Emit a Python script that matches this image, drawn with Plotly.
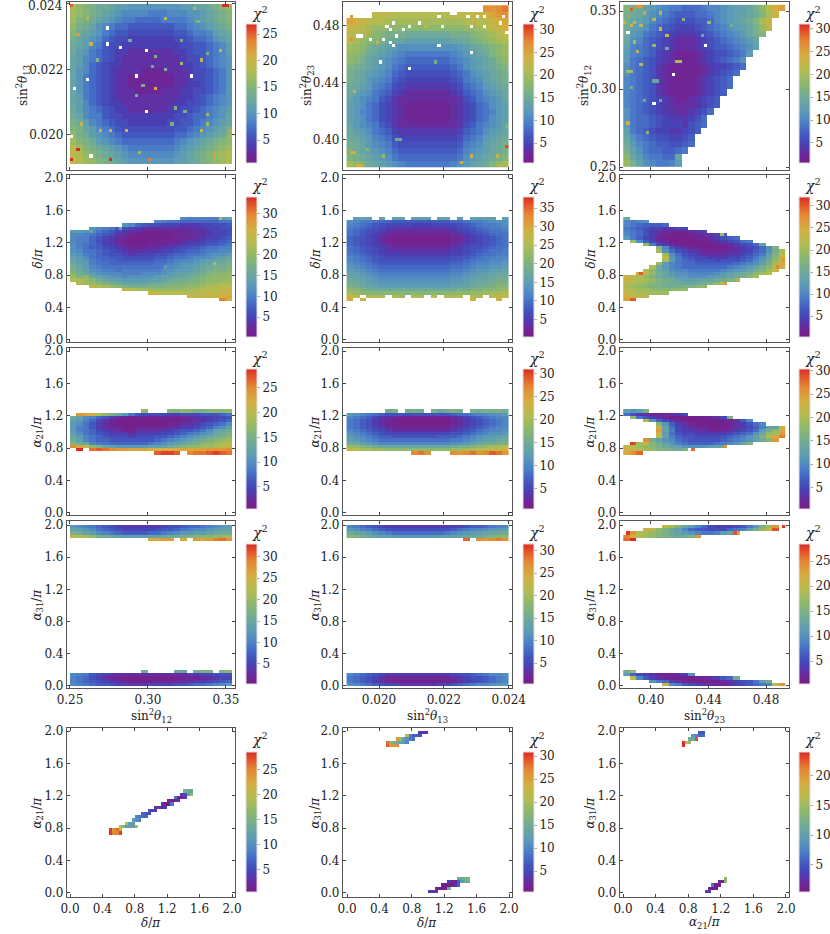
import numpy as np
import plotly.graph_objects as go

# chi^2 cells are written as one base-36 character each ('.' = no point), spaces only group columns
TH12_EDGES = (0.25, 0.354)
TH13_EDGES = (0.0190, 0.0240)
TH13_Y_EDGES = (0.0191, 0.0240)
TH23_EDGES = (0.3807, 0.4937)
TH23_Y_EDGES = (0.381, 0.4945)
ANGLE_EDGES = (0.0, 2.0)

p11_rows = [
"igfed dcbba aaaaa aabbc cdefg","hgfed cba99 99888 999aa bcdef","hfedc ba988 77778 8889a bcdef",
"gedca 98776 66666 67789 abcde","fdcba 87665 55555 56678 89bcd","ecba9 76554 44444 45567 78abc",
"dcb98 65544 44444 44556 6789b","dba87 65443 33333 34456 6789b","cb987 65433 33333 33455 6789a",
"cb976 54433 33333 33445 6789a","ca976 54333 32222 33345 5678a","ca876 54332 22222 23345 5678a",
"ca876 54332 22222 23344 5678a","ca876 54333 22223 33445 5678a","cb876 54333 33333 33445 6789a",
"cb976 54433 33333 34455 6789a","db987 65443 33333 44556 789ab","dc988 65544 44444 45567 789ac",
"edb98 76554 44444 55667 89abc","fecb9 87655 55555 56678 9abce","gedba 98766 66666 67789 abcdf",
"hfedb a9877 77777 789ab cdefg","ihfed cba98 88888 89abc defgh","jigfe dcba9 99999 9abcd efghi",
"kihgf edcba aaaaa abbcd efghi"]
p11_holes = [(11,42),(11,37),(15,36),(23,35),(5,26),(1,23),(20,27),(37,27),(23,16),(0,8),(6,2)]
p11_spots = [(2,40,22),(6,37,20),(26,33,15),(29,29,14),(26,23,21),(9,10,21),(12,10,20),(49,10,22),(2,4,27),(0,1,27),
(12,1,27),(24,1,24),(44,3,22),(44,2,22),(48,49,27),(47,49,27),(0,49,25),(38,48,18),(29,45,18),(5,45,19),(39,44,15),
(34,38,14),(18,38,13),(42,34,14),(46,35,18),(8,32,15),(40,32,19),(34,31,17),(25,30,13),(22,24,14),(20,21,14),(32,17,14),
(35,16,14),(42,15,17),(42,12,17),(31,12,14),(17,10,20),(3,12,19),(40,10,20),(21,3,17),(49,8,21)]

p12_rows = [
"..... ..... ..... ..... .rqrs","....m mmlll lllll lmmmn nopqr","ponml lkkkk kkkkk kkkll lmnop",
"nmlkj jiiii iiiii iiijj klmno","mlkji hgggf fffff fgggh ijklm","lkjih gfeed ddddd deefg hijkl",
"kjigf edcbb bbbbb bbcde fghij","jihfe dcba9 99999 9abcd efhij","ihged cba98 88888 89abc defhi",
"hgfed cb987 77777 789bc defgh","gfedc ba876 66666 6789b cdefg","gfecb a9765 55555 5679a bdefg",
"fedca 98654 44444 45689 acdef","edcb9 87543 33333 34578 9bcde","ecba9 76433 33333 33467 9abce",
"dcb98 65432 22222 23456 89bcd","dca98 65432 22222 23456 89acd","dcb98 65432 22222 23456 89bcd",
"ecba9 76433 33333 33467 9abce","edcb9 87544 44444 44578 9bcde","fedca 98655 55555 55689 acdef",
"gfecb a9766 66666 6679a bdefg","gfedc ba877 77777 778ab cdefg","hgfed cb988 88888 889bc defgh",
"kihfe dcba9 99999 9abcd efhjk"]
p12_holes = [(10,32),(19,30),(38,35),(28,37),(14,37),(13,38),(11,39),(7,39),(15,40),(3,40),(4,40),(17,42),(13,42),(12,43),
(14,44),(19,43),(22,44),(29,43),(38,43),(42,43),(47,44),(49,41),(28,46),(32,47),(33,47),(37,46),(40,46),(42,46),(48,46)]
p12_spots = [(1,39,27),(2,23,24),(49,6,30),(1,4,24),(2,4,24),(3,0,24),(4,0,24),(35,1,24),(38,3,23),(46,3,23),(47,0,22),
(27,32,16),(15,8,15),(16,8,15),(6,5,18),(11,3,19),(1,46,26),(47,47,27),(48,49,28),(39,44,25),(24,43,22),(9,38,22),(6,41,25),(49,12,17)]

p13_rows = [
"hgfdc ba998 889aa bcdde gilop","gfecb a9877 7889a bcdde fhkn","gedca 98766 6778a bcdef hkn",
"fdcb9 87655 56789 abcde gjm","fcb98 76544 45678 9abce gh","eba87 65433 34567 89abc e",
"da987 65433 34567 789ab d","ca987 54322 23456 6789c","c9876 54322 23456 789b","b9876 43222 22345 5678",
"b9876 43222 22345 678","a9876 43222 23456 78","a9876 43222 23456 78","a9876 43222 23456 7","a9876 54322 34567",
"a9876 54333 34567","b9876 54433 4568","b9887 65444 568","c9887 65554 678","d9876 55445 67","eb987 66556 7",
"fca98 77667 8","gdb98 87789","ieca9 988e","jgdba 99ac"]
p13_holes = [(25,37),(15,28),(9,19),(1,41)]
p13_spots = [(2,48,29),(4,49,26),(5,49,26),(0,44,24),(2,43,24),(3,44,22),(5,43,22),(11,42,24),(13,40,23),(9,45,20),(11,47,20),
(6,47,25),(16,32,20),(17,32,20),(9,26,14),(10,26,14),(1,13,24),(7,10,18),(5,31,22),(1,29,20),(2,29,20),(4,35,22),(3,38,20),
(9,37,19),(24,40,14),(13,36,14),(18,45,17),(33,43,16),(26,44,18),(6,20,15),(11,20,14),(2,24,16)]

p21_rows = [
"..... ..... ..... ..baa aaadf","..... ..... ...ba 99888 88899","..... ...cb 87665 55444 55667",
"...cb a9765 43333 33334 45566","ddcb9 87543 32222 22233 34556","bba98 76432 11111 12223 34556",
"baa87 54321 11111 12233 45567","baa86 54211 11112 22344 56678","ba987 54321 11222 33455 67789",
"ca987 65432 22334 45667 899aa","cb998 76543 34445 56788 9aabb","dca98 76654 55566 78899 abccd",
"edb98 87766 66677 899ab bcdef","fdca9 88777 77788 9abbc deffg","geda9 98888 88899 abccd efggh",
"hfdba 99999 9999a bcdde fghhi","igecb aa9aa aaaab cddef ghiij","jhfdc bbbaa abbbc deefg hijjk",
"likfe dccbc cccde effgh ijkkk","nmljh feedd ddeef gghhi jkkkl",".nlkj ihgff ffggh hiijj kllmm",
"...pn mkjih hhiii jjjkk lmmnn","..... ...pn mllkk kkllm mnnoo","..... ..... ..pon nnnmn noopp",
"..... ..... ..... ...qp oppqr","..... ..... ..... ..... ...uq"]
p21_spots = [(6,33,15),(15,34,15),(46,37,22),(44,23,22),(29,22,13),(27,18,13),(6,28,7)]

p22_rows = [
".fgf. g.fg. fgf.g g.f.g fgg.f","dcbba 99888 88888 899ab bcddd","cba98 76666 55566 66789 abbcd",
"ba987 65444 44444 45678 9abbc","a9876 54333 33333 34567 89aab","a9865 43222 22222 23456 789aa",
"98765 32111 11111 12345 6789a","98765 32111 11111 12345 6789a","98765 43222 22222 23456 6789a",
"a9876 54333 33333 34567 789aa","a9876 54444 44444 45567 89aab","ba987 65555 55555 56678 9aabb",
"cba98 76666 66666 67789 abbcc","cba98 77777 77777 7889a bbccd","dcba9 88888 88888 899ab ccdde",
"edcba 99999 99999 9aabc ddeef","fedcb aaaaa aaaaa abbcd eefgg","gfedc bbbbb bbbbb bccde ffghh",
"hgfed ccccc ccccc cddef gghii","ihgfe ddddd ddddd deefg hhijj","jihgf eeeee eeeee effgh iijkk",
"kjihg fffff fffff fgghi jjkll","mlkji iiiii iiiii iijjk kllmn","onmll lllll lllll lmmmn nooop",
"sq.rp p.qo. pp.q. rpq.p p.qrs","u.t.. ..... ..... ....s ...s."]

p23_rows = [
"f","a9ab","a9877 78","98765 54455","a9864 32222 345","a9864 32111 22345 7","c9754 21111 12234 678",
".kb75 32111 11123 45689","...j9 54211 11112 23456 8e","..... ia643 21111 12345 68bh","..... kb865 43222 23345 78bgl",
"..... .kb86 54333 34456 89dhm","..... .mc97 65544 45567 9beip","..... .lc98 76665 66678 acfjp","..... kca98 87777 7789a bdglp",
"....l fca98 88888 89abc egilo","...mi fdbaa 99999 abcce ghkn","..qmj gecbb aaaab cdefg ikm","nmljh fedcc bbbcc defgi k",
"omlkj hgfed ddeef ghi","mlkji hgffe efghj m","lkjih hgggh hij","mlkkj iiijj","nmlkk kk","pnnm","qu"]
p23_spots = [(5,20,30),(49,24,27),(47,22,28),(35,18,26),(31,17,27),(30,32,20)]

p31_rows = [
"..... ..... .h... gfhgf fghgh",".onmj hfdb8 65555 44555 66678","eca97 64321 22222 22233 44556",
"cb975 32111 11111 11223 34567","ba864 32111 11111 22334 5678a","b9864 32211 22222 33445 679ac",
"b9875 43322 33334 45667 8acde","ca876 54443 44445 56789 abdef","db987 65554 55566 789ab cdefg",
"ec987 76666 66678 9abcd efghi","ged98 87777 7789a bcdef ghijk","pnkhf dcbbb bbccd efghh iijkl",
".u.qr qpoon nnmmm mmnnn nooop","..... ..... ...rs sr.pq qrsrq"]

p32_rows = [
"..... .fg.f gf.ge fgf.g fgggf","cba98 76666 66666 67889 aabbc","a9875 43322 22222 23456 789aa",
"98764 32111 11111 12345 6789a","98764 32111 11111 12345 6789a","98765 43222 22222 23456 789aa",
"a9876 54333 33333 34567 89aab","ba987 65555 55555 56678 9abbc","cba98 77666 66667 7789a bccdd",
"dcba9 88888 88888 899ab cddef","fedcb aaaaa aaaaa abbcd effgg","jihgf eeeee eeeee efggh ijkkl",
"mlkkj jiiii iiiii ijjkk llmmo","..... ..... rsq.. .rqrs qrtsq"]

p33_rows = [
"cbcg","86432 22345",".i864 32111 11223 5g","...kb 75321 11111 2236a","..... hb743 21111 12346 8a",
"..... nd854 32211 12345 79ddn","..... pd954 43322 23456 8cfio","..... nc865 54444 45678 beijp",
"..... ld976 65555 6789b dgkor","...qf dba87 66666 789ab dfhp",".ukmh fdb98 77778 9abdg",
"mljih gedcb bbbcd e","nmkji hgfeg","oqs"]
p33_spots = [(3,21,29),(21,19,28),(31,20,26)]

p41_top = ["cba98 76544 44445 66788 9abcd","edcb9 87655 55567 789ab bcdee","hgedb a9877 77889 abccd defgg",
"omlkh gfedd ddeef gghii jjkkl","..... ..... ..qqr r.q.r qrtus"]
p41_bot = ["..... ..... .g... .fe.g hh.hj","ba976 54333 33333 33344 55666","a9865 32211 11111 11222 33455",
"a9876 54321 11122 22334 45678","ba987 76554 44555 56678 89abc"]

p42_top = ["a9876 54444 44444 45567 789aa","cba98 76666 66666 6789a abccd","fedcb a9888 88888 9abcc deeff",
"ihgfe ddccc ccccd ddeef fghij","..... ..... ..... ...t. rqrsr"]
p42_bot = ["a9876 54444 44444 45667 89aab","98765 32222 22222 23456 6789a","98764 32111 11111 22345 6789a",
"ba987 65544 44445 56789 aabcc"]

p43_top = ["..... .kif db975 44456 8bfio","...mk hfdc9 76655 5789c fhkr",".ojih gfdcb a9889 bdn","pmjih gfede fo","qt"]
p43_bot = ["eh","b7543 22234 a",".k964 32111 11234 67e","....a 87432 11111 23456 8ce","..... .k986 54332 23456 789jo"]
p43_spots = [(49,49,28),(34,47,27),(1,47,28)]

p51_rows = ["..... ..... ..... ..... ...fd c","..... ..... ..... ..... ..45c h","..... ..... ..... ..... 8223",
"..... ..... ..... ...21 14","..... ..... ..... .4118","..... ..... ....3 324","..... ..... ..544","..... ..... 765",
"..... ...98 77","..... ..ba9","..... jcb","...kf cccj","soqm","spps"]
p52_upper = {49:(22,"443"),48:(18,"n9776"),47:(15,"qjdb98"),46:(12,"shgedca"),45:(12,"tqqr")}
p52_lower = {4:(34,"efgh"),3:(31,"4227cfg"),2:(29,"111137"),1:(27,"2111g"),0:(25,"443")}
p53_upper = {49:(23,"55"),48:(21,"9866"),47:(20,"cbn"),46:(18,"oif"),45:(18,"o")}
p53_lower = {4:(31,"e"),3:(29,"21e"),2:(27,"711"),1:(26,"211"),0:(25,"44")}

z_limits = [[(0.66,26.9),(0.6,31.3),(0.6,31)],[(0.2,34),(0.3,38),(0.3,32)],[(0.55,28.8),(0.5,31),(0.4,30.4)],
            [(0.3,33),(0.4,31.5),(0.4,28.4)],[(0.5,28.6),(0.5,30.9),(0.4,24)]]

ANGLE_TICKS = [0.0,0.4,0.8,1.2,1.6,2.0]
ANGLE_LABELS = ["0.0","0.4","0.8","1.2","1.6","2.0"]
TH12_TICKS, TH12_LABELS = [0.25,0.30,0.35], ["0.25","0.30","0.35"]
TH13_TICKS, TH13_LABELS = [0.020,0.022,0.024], ["0.020","0.022","0.024"]
TH23_TICKS, TH23_LABELS = [0.40,0.44,0.48], ["0.40","0.44","0.48"]

T12 = "sin<sup>2</sup><i>θ</i><sub>12</sub>"
T13 = "sin<sup>2</sup><i>θ</i><sub>13</sub>"
T23 = "sin<sup>2</sup><i>θ</i><sub>23</sub>"
TD = "<i>δ</i>/<i>π</i>"
TA21 = "<i>α</i><sub>21</sub>/<i>π</i>"
TA31 = "<i>α</i><sub>31</sub>/<i>π</i>"
TCHI = "<i>χ</i><sup>2</sup>"

COLORS = [[0,"#781c86"],[0.07,"#6a2a9c"],[0.13,"#4a3fb4"],[0.2,"#4258c0"],[0.28,"#4a7cc8"],[0.37,"#5a9ab8"],
          [0.47,"#6faa98"],[0.57,"#8bb86e"],[0.67,"#b4bc50"],[0.77,"#d4ae40"],[0.87,"#e48a34"],[0.95,"#e3502a"],[1,"#db2a22"]]

def new_grid():
    return np.full((50,50), np.nan)

def fill(z, rows, top, xrep=2, yrep=2, start=0):
    for k, row in enumerate(rows):
        row = row.replace(" ", "")
        for i, ch in enumerate(row):
            if ch == ".":
                continue
            for a in range(yrep):
                for b in range(xrep):
                    r, c = top - k*yrep - a, start + i*xrep + b
                    if 0 <= r < 50 and 0 <= c < 50:
                        z[r, c] = int(ch, 36)

def patch(z, spots=(), holes=()):
    for c, r, v in spots:
        z[r, c] = v
    for c, r in holes:
        z[r, c] = np.nan

def sparse(z, table):
    for r, (c0, s) in table.items():
        for i, ch in enumerate(s):
            z[r, c0+i] = int(ch, 36)

grids = [[new_grid() for _ in range(3)] for _ in range(5)]
fill(grids[0][0], p11_rows, 49); patch(grids[0][0], p11_spots, p11_holes)
fill(grids[0][1], p12_rows, 49); patch(grids[0][1], p12_spots, p12_holes)
fill(grids[0][2], p13_rows, 49); patch(grids[0][2], p13_spots, p13_holes)
fill(grids[1][0], p21_rows, 37, yrep=1); patch(grids[1][0], p21_spots)
fill(grids[1][1], p22_rows, 37, yrep=1)
fill(grids[1][2], p23_rows, 37, yrep=1); patch(grids[1][2], p23_spots)
fill(grids[2][0], p31_rows, 31, yrep=1)
fill(grids[2][1], p32_rows, 31, yrep=1)
fill(grids[2][2], p33_rows, 31, yrep=1); patch(grids[2][2], p33_spots)
fill(grids[3][0], p41_top, 49, yrep=1); fill(grids[3][0], p41_bot, 4, yrep=1)
fill(grids[3][1], p42_top, 49, yrep=1); fill(grids[3][1], p42_bot, 3, yrep=1)
fill(grids[3][2], p43_top, 49, yrep=1); fill(grids[3][2], p43_bot, 4, yrep=1); patch(grids[3][2], p43_spots)
fill(grids[4][0], p51_rows, 31, xrep=1, yrep=1, start=12)
sparse(grids[4][1], p52_upper); sparse(grids[4][1], p52_lower)
sparse(grids[4][2], p53_upper); sparse(grids[4][2], p53_lower)

W, H = 830, 934
col_px = [(67,235),(343,512),(620,789)]
row_px = [(2,170),(175,342),(348,515),(521,688),(728,897)]
bar_px_x = [246,523,799]
bar_px_y = [(24,163),(197,337),(369,509),(544,684),(752,892)]
chi_y = [13,185,358,532,739]

row_titles = [[T13,T23,T12],[TD,TD,TD],[TA21,TA21,TA21],[TA31,TA31,TA31],[TA21,TA31,TA31]]
col_titles = [T12,T13,T23]
ytitle_px = [[23,307,584],[37,315,590],[37,315,590],[37,315,590],[37,315,590]]
xtitle_px = {3:716, 4:923}
x_edges_by_col = [TH12_EDGES,TH13_EDGES,TH23_EDGES]
x_ticks_by_col = [(TH12_TICKS,TH12_LABELS),(TH13_TICKS,TH13_LABELS),(TH23_TICKS,TH23_LABELS)]
x_range_by_col = [(0.24808,0.3558),(0.01889,0.0241),(0.37844,0.496)]
y_edges_row0 = [TH13_Y_EDGES,TH23_Y_EDGES,TH12_EDGES]
y_ticks_row0 = [(TH13_TICKS,TH13_LABELS),(TH23_TICKS,TH23_LABELS),(TH12_TICKS,TH12_LABELS)]
y_range_row0 = [(0.01893,0.02406),(0.3789,0.4968),(0.2481,0.3558)]
y_range_rows = [None,(-0.025,2.037),(-0.025,2.037),(-0.025,2.05),(-0.05,2.037)]
x_range_row5 = [(-0.037,2.037),(-0.05,2.037),(-0.037,2.037)]
x_titles_row5 = [TD,TD,TA21]

FONT = "DejaVu Serif"
DARK = "#222"
fig = go.Figure()
axes = {}
notes = []
n = 0
for r in range(5):
    for c in range(3):
        n += 1
        x0, x1 = col_px[c]; y0, y1 = row_px[r]
        zmin, zmax = z_limits[r][c]
        xe = np.linspace(*(x_edges_by_col[c] if r < 4 else ANGLE_EDGES), 51)
        ye = np.linspace(*(y_edges_row0[c] if r == 0 else ANGLE_EDGES), 51)
        by0, by1 = bar_px_y[r]
        fig.add_trace(go.Heatmap(
            x=xe, y=ye, z=grids[r][c], zmin=zmin, zmax=zmax, colorscale=COLORS, hoverinfo="skip",
            xaxis=f"x{n}", yaxis=f"y{n}",
            colorbar=dict(x=bar_px_x[c]/W, xanchor="left", xpad=0, y=1-by0/H, yanchor="top", ypad=0,
                          len=(by1-by0)/H, lenmode="fraction", thickness=11, thicknessmode="pixels",
                          tick0=0, dtick=5, ticks="outside", ticklen=3, tickcolor="#aaa", tickwidth=1,
                          outlinewidth=1, outlinecolor="#ddd", tickfont=dict(size=12, family=FONT, color=DARK))))
        notes.append(dict(text=TCHI, xref="paper", yref="paper", x=(bar_px_x[c]+14)/W, y=1-chi_y[r]/H,
                          xanchor="center", yanchor="middle", showarrow=False,
                          font=dict(size=14, family=FONT, color=DARK)))
        notes.append(dict(text=row_titles[r][c], xref="paper", yref="paper", x=ytitle_px[r][c]/W, y=1-(y0+y1)/2/H,
                          xanchor="center", yanchor="middle", showarrow=False, textangle=-90,
                          font=dict(size=12, family=FONT, color=DARK)))
        if r >= 3:
            xtitle = x_titles_row5[c] if r == 4 else col_titles[c]
            notes.append(dict(text=xtitle, xref="paper", yref="paper", x=(x0+x1)/2/W, y=1-xtitle_px[r]/H,
                              xanchor="center", yanchor="middle", showarrow=False,
                              font=dict(size=12, family=FONT, color=DARK)))
        if r == 4:
            xt, xl = ANGLE_TICKS, ANGLE_LABELS
            xr = x_range_row5[c]
        else:
            xt, xl = x_ticks_by_col[c]
            xr = x_range_by_col[c]
        if r == 0:
            yt, yl = y_ticks_row0[c]; yr = y_range_row0[c]
        else:
            yt, yl = ANGLE_TICKS, ANGLE_LABELS; yr = y_range_rows[r]
        common = dict(showline=True, mirror="allticks", linecolor="#555", linewidth=1.2, ticks="inside", ticklen=3,
                      tickcolor="#444", tickwidth=1, showgrid=False, zeroline=False,
                      tickfont=dict(size=12, family=FONT, color=DARK))
        axes[f"xaxis{n}"] = dict(common, domain=[x0/W, x1/W], range=list(xr), tickvals=xt, ticktext=xl,
                                 anchor=f"y{n}", showticklabels=r >= 3, automargin=False)
        axes[f"yaxis{n}"] = dict(common, domain=[1-y1/H, 1-y0/H], range=list(yr), tickvals=yt, ticktext=yl,
                                 anchor=f"x{n}", automargin=False)

# The top tick label of the first panel sits against the page edge, where the axis drops it.
notes.append(dict(text=TH13_LABELS[2], xref="paper", yref="paper", x=65/W, y=1-6/H, xanchor="right", yanchor="middle",
                  showarrow=False, font=dict(size=12, family=FONT, color=DARK)))

fig.update_layout(width=W, height=H, margin=dict(l=0,r=0,t=0,b=0,autoexpand=False), paper_bgcolor="white", plot_bgcolor="white",
                  annotations=notes, **axes)
fig.write_html("out.html", post_script="document.body.style.margin='0';", config={"displayModeBar": False})
